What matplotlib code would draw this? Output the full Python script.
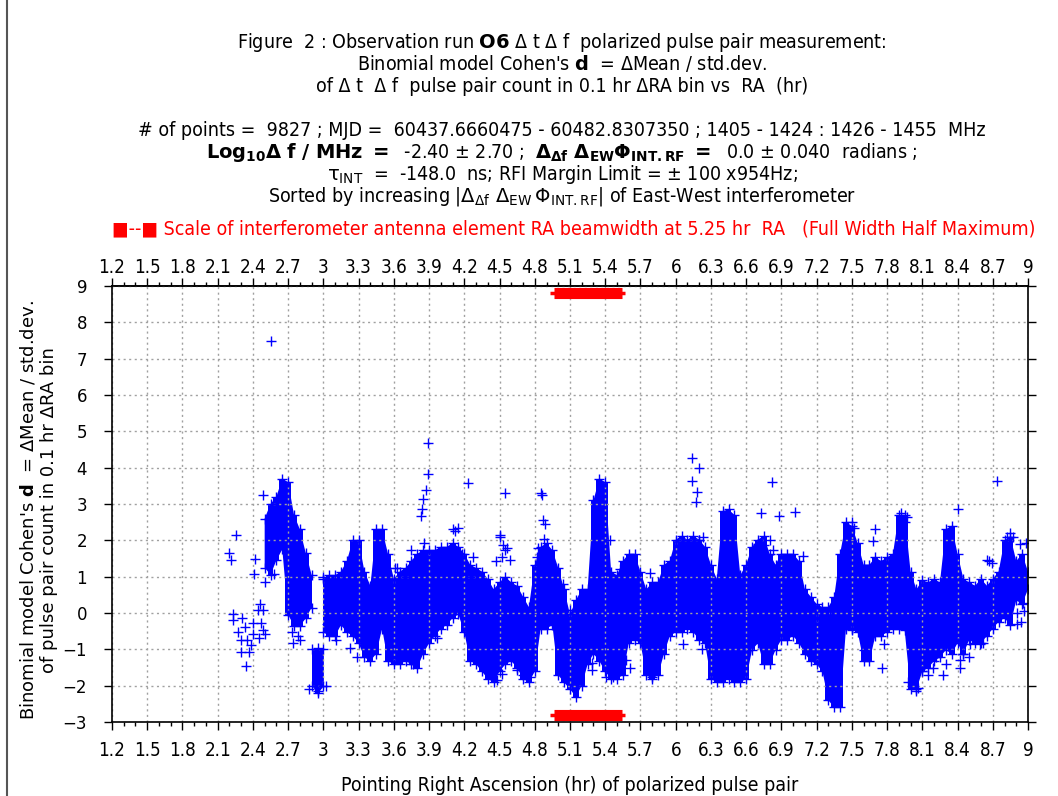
import numpy as np
import matplotlib.pyplot as plt
from matplotlib.lines import Line2D
from matplotlib.ticker import FixedLocator, MultipleLocator

nan = np.nan

# Dense part of the scatter, read per 0.05 hr RA column: lower / upper edge of Cohen's d
band_ra = [2.50, 2.55, 2.60, 2.65, 2.70, 2.75, 2.80, 2.85, 2.90, 2.95,
           3.00, 3.05, 3.10, 3.15, 3.20, 3.25, 3.30, 3.35, 3.40, 3.45,
           3.50, 3.55, 3.60, 3.65, 3.70, 3.75, 3.80, 3.85, 3.90, 3.95,
           4.00, 4.05, 4.10, 4.15, 4.20, 4.25, 4.30, 4.35, 4.40, 4.45,
           4.50, 4.55, 4.60, 4.65, 4.70, 4.75, 4.80, 4.85, 4.90, 4.95,
           5.00, 5.05, 5.10, 5.15, 5.20, 5.25, 5.30, 5.35, 5.40, 5.45,
           5.50, 5.55, 5.60, 5.65, 5.70, 5.75, 5.80, 5.85, 5.90, 5.95,
           6.00, 6.05, 6.10, 6.15, 6.20, 6.25, 6.30, 6.35, 6.40, 6.45,
           6.50, 6.55, 6.60, 6.65, 6.70, 6.75, 6.80, 6.85, 6.90, 6.95,
           7.00, 7.05, 7.10, 7.15, 7.20, 7.25, 7.30, 7.35, 7.40, 7.45,
           7.50, 7.55, 7.60, 7.65, 7.70, 7.75, 7.80, 7.85, 7.90, 7.95,
           8.00, 8.05, 8.10, 8.15, 8.20, 8.25, 8.30, 8.35, 8.40, 8.45,
           8.50, 8.55, 8.60, 8.65, 8.70, 8.75, 8.80, 8.85, 8.90, 8.95,
           9.00]
band_lo = [1.25, 1.05, 1.45, 1.75, -0.05, -0.35, -0.35, -0.15, 0.15, nan,
           -0.53, -0.63, -0.63, -0.33, -0.53, -0.63, -0.83, -1.22, -1.32, -1.12,
           -0.43, -1.32, -1.41, -1.41, -1.32, -1.41, -1.51, -1.12, -0.83, -0.63,
           -0.43, -0.33, -0.14, -0.04, -0.53, -1.32, -1.41, -1.61, -1.81, -1.91,
           -1.61, -1.41, -1.32, -1.51, -1.81, -1.91, -1.61, -0.43, -0.43, -0.33,
           -1.71, -1.91, -2.10, -2.30, -2.00, -1.41, -1.12, -1.32, -1.61, -1.81,
           -1.81, -1.71, -0.83, -0.73, -0.83, -1.71, -1.81, -1.71, -1.12, -0.63,
           -0.53, -0.53, -0.43, -0.53, -0.73, -0.83, -1.81, -1.91, -1.91, -1.81,
           -1.91, -1.91, -1.81, -1.02, -0.83, -1.41, -1.41, -1.02, -0.73, -0.73,
           -0.63, -0.83, -1.12, -1.32, -1.41, -1.61, -2.40, -2.60, -2.60, -0.43,
           -0.43, -0.53, -1.32, -1.32, -0.63, -0.63, -0.53, -0.43, -0.43, -0.48,
           -2.10, -2.10, -1.61, -1.51, -1.32, -1.22, -1.02, -1.12, -0.83, -1.12,
           -0.73, -0.83, -0.83, -0.63, -0.43, -0.24, -0.14, -0.33, 0.35, 0.25,
           0.65]
band_hi = [2.60, 3.00, 3.20, 3.70, 3.60, 2.70, 2.30, 1.65, 1.05, nan,
           0.94, 1.04, 1.04, 1.14, 1.43, 2.00, 2.00, 1.14, 0.75, 2.30,
           2.30, 1.63, 0.94, 1.14, 1.24, 1.43, 1.63, 1.73, 1.73, 1.73,
           1.82, 1.82, 1.92, 1.82, 1.63, 1.33, 1.24, 1.14, 0.94, 0.65,
           0.84, 1.00, 0.84, 0.75, 0.45, 0.16, 1.33, 1.82, 1.92, 1.73,
           1.24, 0.65, -0.04, 0.35, 0.65, 0.65, 3.10, 3.70, 3.60, 1.14,
           1.04, 1.43, 1.63, 1.63, 1.14, 0.65, 0.84, 0.84, 1.33, 1.43,
           2.02, 2.12, 2.02, 2.12, 2.02, 1.82, 1.33, 0.94, 2.80, 2.85,
           2.70, 1.04, 1.33, 1.82, 2.02, 2.12, 1.63, 1.33, 1.63, 1.63,
           1.63, 1.43, 0.65, 0.45, 0.25, 0.16, 0.16, 0.45, 1.63, 2.50,
           2.40, 1.92, 1.33, 1.33, 1.53, 1.43, 1.53, 1.63, 2.70, 2.70,
           1.14, 0.65, 0.90, 0.84, 0.94, 0.84, 2.30, 2.40, 1.63, 0.94,
           0.84, 0.75, 0.94, 0.75, 0.94, 1.14, 2.00, 2.10, 1.43, 1.63,
           1.14]

# Separate low cluster near 2.95 hr
low_ra = [2.90, 2.95, 3.00]
low_lo = [-2.00, -2.20, -2.00]
low_hi = [-1.00, -0.95, -1.00]

# Isolated points and ragged edge points
out_ra = [2.20, 2.21, 2.26, 2.42, 2.41, 2.50, 2.49, 2.58, 2.55,
          2.23, 2.23, 2.31, 2.30, 2.35, 2.30, 2.37, 2.34, 2.40, 2.44,
          2.49, 2.47, 2.49, 2.40, 2.45, 2.50, 2.38, 2.27, 2.33, 2.46,
          2.73, 2.78, 2.74, 2.80, 2.76, 2.88, 2.95, 3.02, 3.00, 3.63,
          3.89, 3.89, 3.87, 3.85, 3.84, 3.83, 3.86, 3.75, 3.80,
          4.12, 4.15, 4.10, 4.18, 4.23, 4.50, 4.53, 4.55, 4.52, 4.55, 4.47,
          4.85, 4.86, 4.87, 4.89, 4.83, 4.88, 5.68, 5.62,
          6.14, 6.20, 6.14, 6.18, 6.17, 6.73, 6.82, 6.88, 7.02, 6.70, 6.75,
          7.50, 7.52, 7.70, 7.68, 7.92, 7.95, 7.97, 8.40, 8.74,
          8.98, 8.85, 8.87, 8.67, 8.69, 8.95, 8.92, 9.00, 8.97, 8.94,
          8.10, 8.15, 8.30, 8.42, 8.45, 8.50, 8.05, 7.98, 8.22, 8.60, 8.62,
          4.27, 4.25, 4.50, 4.56, 4.59, 4.65, 4.70, 4.76, 4.48, 4.52,
          4.82, 4.85, 5.04, 5.10, 5.29, 5.29, 5.41, 5.47, 5.58, 5.61,
          5.44, 5.50, 5.53, 5.78, 5.84, 5.93, 5.80,
          6.20, 6.23, 6.55, 6.46, 6.22, 6.06, 6.80, 6.83, 7.08, 7.14,
          7.20, 7.31, 7.37, 7.50, 7.77, 7.76, 7.60,
          8.19, 8.28, 8.06, 8.42, 8.51, 8.59, 8.65, 8.91, 8.91, 8.96,
          8.82, 8.93, 3.03, 3.11, 3.23, 3.29, 3.71, 3.70, 3.76, 3.97, 3.61]
out_d = [1.65, 1.45, 2.15, 1.50, 1.07, 0.85, 3.25, 1.07, 7.48,
         -0.04, -0.19, -0.14, -0.75, -0.73, -1.07, -1.07, -1.46, -0.58, 0.08,
         0.08, -0.28, -0.48, -0.28, -0.68, -0.58, -0.87, -0.53, -0.38, 0.26,
         -0.53, -0.63, -0.83, -0.73, 0.75, -2.10, -2.15, -2.00, 1.00, 1.25,
         4.67, 3.82, 3.39, 3.15, 2.86, 2.66, 1.92, 1.73, 1.50,
         2.25, 2.35, 2.30, 1.63, 3.58, 2.15, 1.86, 1.73, 1.53, 3.30, 1.43,
         3.30, 3.25, 2.55, 2.45, 1.78, 2.05, 0.80, 1.43,
         4.26, 3.98, 3.62, 3.32, 3.05, 2.75, 3.60, 2.68, 2.78, 1.90, 1.87,
         2.50, 2.35, 2.30, 1.97, 2.75, 2.50, 2.65, 2.85, 3.62,
         1.92, 2.20, 2.10, 1.43, 1.38, 1.04, 0.45, 1.14, 0.06, -0.24,
         -1.61, -1.71, -1.41, -1.51, -1.12, -1.22, -2.15, -1.91, -1.22, -0.63, -0.83,
         1.53, 0.98, 2.08, 1.80, 1.45, -1.58, -1.70, -1.77, -1.85, -1.67,
         1.53, 1.63, 0.80, 0.07, -1.38, -1.58, -1.77, -1.77, -1.30, -1.50,
         2.00, 0.80, 1.20, 1.10, 0.72, 1.25, -1.77,
         2.00, 2.10, 0.85, 0.82, -0.98, -0.84, 2.00, 1.73, 1.58, 0.16,
         -0.10, 0.08, -0.10, -0.48, -0.84, -1.50, -1.03,
         -1.50, -1.72, -2.07, -1.30, -0.84, -0.84, 1.45, 0.00, -0.30, 0.27,
         2.10, 1.90, -0.30, -0.75, -0.95, -1.20, 0.62, 0.98, -1.40, -0.70, 1.25]

# Antenna element RA beamwidth (FWHM) scale bar
beam_ra = 5.25
beam_half = 0.29
beam_rows = [8.8, -2.8]

ra_ticks = np.round(np.arange(1.2, 9.01, 0.3), 1)

fig = plt.figure(figsize=(10.58, 7.96), dpi=100)
ax = fig.add_axes([112 / 1058, 1 - 722 / 796, 916 / 1058, 436 / 796])

blue = '#0000ff'
# dense columns: stepped plus linear so the blobs keep column shape with softer joins
for st in ('mid', None):
    ax.fill_between(band_ra, band_lo, band_hi, step=st, color=blue, lw=0)
    ax.fill_between(low_ra, low_lo, low_hi, step=st, color=blue, lw=0)
mk = dict(ls='none', marker='+', ms=7.5, mew=1.0, color=blue)
ax.plot(band_ra, band_lo, **mk)
ax.plot(band_ra, band_hi, **mk)
ax.plot(low_ra, low_lo, **mk)
ax.plot(low_ra, low_hi, **mk)
ax.plot(out_ra, out_d, **mk)

for yb in beam_rows:
    ax.plot([beam_ra - beam_half - 0.03, beam_ra + beam_half + 0.03], [yb, yb],
            color='red', lw=2.5, solid_capstyle='butt', zorder=5)
    ax.plot([beam_ra - beam_half, beam_ra + beam_half], [yb, yb],
            color='red', lw=8, solid_capstyle='butt', zorder=6)

ax.set_xlim(1.2, 9.0)
ax.set_ylim(-3, 9)
ax.xaxis.set_major_locator(FixedLocator(ra_ticks))
ax.set_xticklabels([f'{t:g}' for t in ra_ticks])
ax.xaxis.set_minor_locator(MultipleLocator(0.1))
ax.yaxis.set_major_locator(MultipleLocator(1))
ax.tick_params(axis='x', which='major', direction='out', length=6, width=1,
               pad=8, labelsize=13.5)
ax.tick_params(axis='x', which='minor', direction='out', length=3, width=1)
ax.tick_params(axis='y', which='major', direction='out', length=6, width=1,
               right=True, pad=12, labelsize=12)
for lab in ax.get_xticklabels():
    lab.set_fontstretch('condensed')

top = ax.secondary_xaxis('top')
top.xaxis.set_major_locator(FixedLocator(ra_ticks))
top.set_xticklabels([f'{t:g}' for t in ra_ticks])
top.xaxis.set_minor_locator(MultipleLocator(0.1))
top.tick_params(axis='x', which='major', direction='out', length=6, width=1,
                pad=0.5, labelsize=13.5)
top.tick_params(axis='x', which='minor', direction='out', length=3, width=1)
for lab in top.get_xticklabels():
    lab.set_fontstretch('condensed')

for sp in list(ax.spines.values()) + list(top.spines.values()):
    sp.set_linewidth(1.2)

ax.grid(True, which='major', ls=(0, (1.5, 2.5)), color='#a0a0a0', lw=1)

ax.set_xlabel('Pointing Right Ascension (hr) of polarized pulse pair',
              fontsize=14, fontstretch='condensed', labelpad=11)
fig.text(38 / 1058, 1 - 510 / 796,
         "Binomial model Cohen's $\\mathbf{d}$  = \u0394Mean / std.dev.\n"
         "of pulse pair count in 0.1 hr \u0394RA bin",
         rotation=90, ha='center', va='center', fontsize=13, linespacing=1.15)

cx = 562 / 1058
tkw = dict(ha='center', va='center', fontsize=14, fontstretch='condensed')
fig.text(cx, 1 - 42 / 796,
         'Figure  2 : Observation run $\\mathbf{O6}$ \u0394 t \u0394 f  polarized pulse pair measurement:', **tkw)
fig.text(cx, 1 - 64 / 796,
         "Binomial model Cohen's $\\mathbf{d}$  = \u0394Mean / std.dev.", **tkw)
fig.text(cx, 1 - 86 / 796,
         'of \u0394 t  \u0394 f  pulse pair count in 0.1 hr \u0394RA bin vs  RA  (hr)', **tkw)
fig.text(cx, 1 - 131 / 796,
         '# of points =  9827 ; MJD =  60437.6660475 - 60482.8307350 ; 1405 - 1424 : 1426 - 1455  MHz', **tkw)
fig.text(cx, 1 - 153 / 796,
         '$\\mathbf{Log}_{\\mathbf{10}}\\mathbf{\\Delta\\ f\\ /\\ MHz\\ =}$  -2.40 \u00b1 2.70 ;  '
         '$\\mathbf{\\Delta_{\\Delta f}\\ \\Delta_{EW}\\Phi_{INT.RF}\\ =}$  0.0 \u00b1 0.040  radians ;', **tkw)
fig.text(cx, 1 - 175 / 796,
         '$\\mathrm{\\tau_{INT}}$  =  -148.0  ns; RFI Margin Limit = \u00b1 100 x954Hz;', **tkw)
fig.text(cx, 1 - 197 / 796,
         'Sorted by increasing |$\\mathrm{\\Delta_{\\Delta f}\\ \\Delta_{EW}\\,\\Phi_{INT.RF}}$| of East-West interferometer', **tkw)
fig.text(574 / 1058, 1 - 229 / 796,
         '\u25a0--\u25a0 Scale of interferometer antenna element RA beamwidth at 5.25 hr  RA   (Full Width Half Maximum)',
         ha='center', va='center', fontsize=14, fontstretch='condensed', color='red')

fig.add_artist(Line2D([7 / 1058, 7 / 1058], [0, 1], transform=fig.transFigure,
                      color='#555555', lw=1.5))

fig.savefig('out.png', dpi=100)
